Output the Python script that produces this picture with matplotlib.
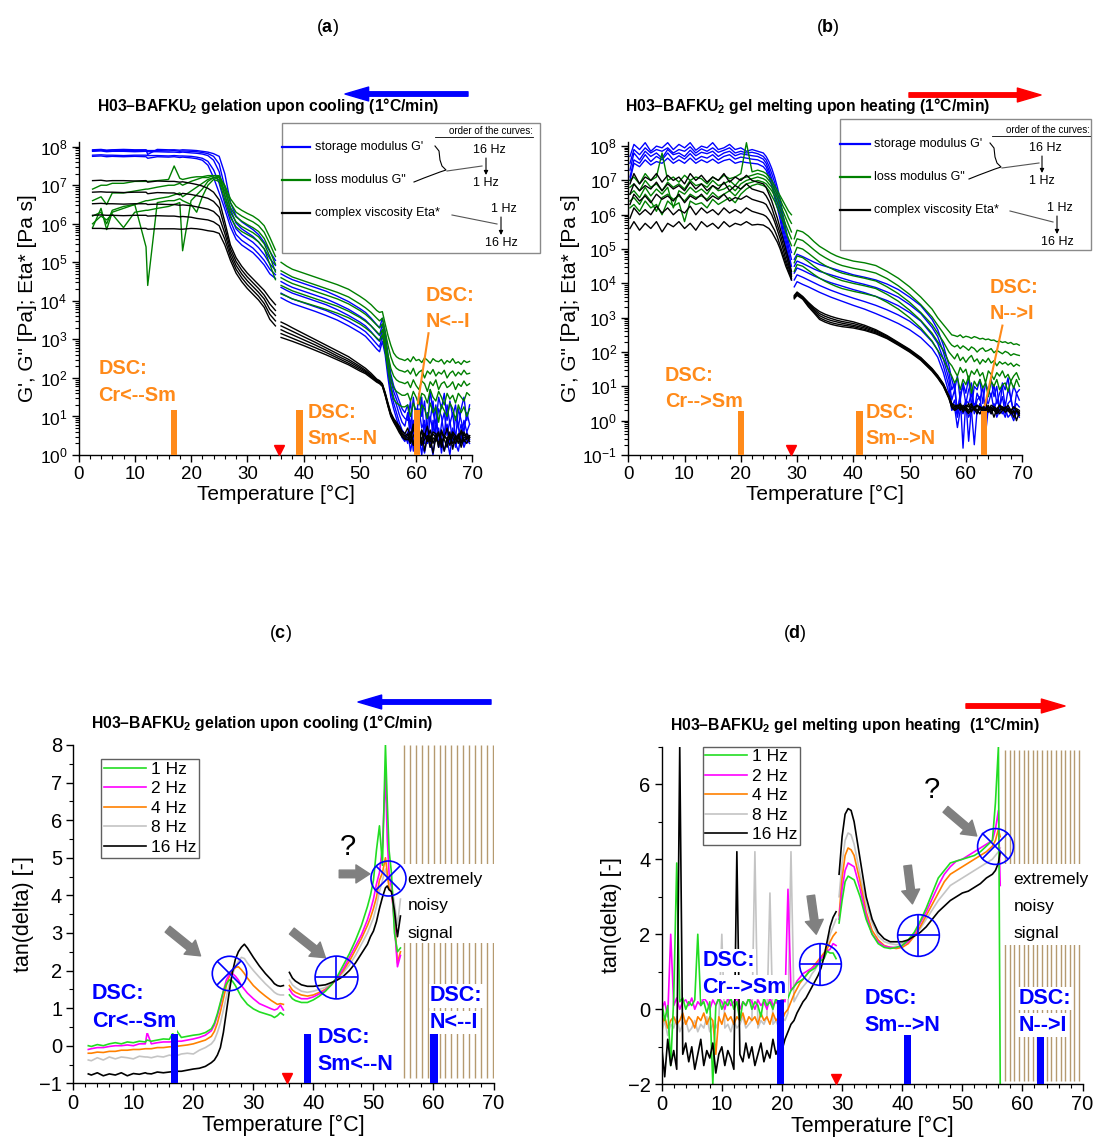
import numpy as np
import matplotlib
matplotlib.use('Agg')
import matplotlib.pyplot as plt
from matplotlib.ticker import MultipleLocator, LogLocator, NullFormatter
from matplotlib.lines import Line2D
from matplotlib.patches import Rectangle, FancyArrowPatch
import matplotlib.transforms as mtransforms

plt.rcParams['font.family'] = ['Liberation Sans', 'DejaVu Sans']
plt.rcParams['mathtext.fontset'] = 'custom'
plt.rcParams['mathtext.rm'] = 'Liberation Sans'
plt.rcParams['mathtext.bf'] = 'Liberation Sans:bold'
plt.rcParams['mathtext.it'] = 'Liberation Sans:italic'
plt.rcParams['mathtext.default'] = 'regular'

# ---------------------------------------------------------------- data
# Panel (a): cooling, log10 of values; rows ordered 16, 8, 4, 2, 1 Hz for G', G''
# and 1, 2, 4, 8, 16 Hz for Eta*
a_T_lo = [2.5, 4, 5, 6, 8, 10, 12, 12.3, 14, 16, 17, 18, 18.5, 20, 21, 22, 23, 24, 25, 26,
          27, 28, 29, 30, 31, 32, 33, 34, 35]
a_Gp_lo = [
    [7.92,7.93,7.91,7.92,7.93,7.92,7.92,7.80,7.93,7.92,7.92,7.91,7.92,7.91,7.90,7.88,7.86,7.82,7.75,7.30,6.55,6.20,6.05,5.95,5.85,5.72,5.52,5.28,5.05],
    [7.90,7.91,7.90,7.91,7.90,7.90,7.91,7.90,7.90,7.89,7.90,7.88,7.89,7.88,7.87,7.85,7.82,7.75,7.55,6.95,6.38,6.02,5.87,5.77,5.67,5.53,5.35,5.10,4.92],
    [7.88,7.89,7.87,7.88,7.88,7.87,7.88,7.87,7.87,7.86,7.86,7.85,7.86,7.84,7.83,7.81,7.77,7.65,7.35,6.72,6.22,5.87,5.72,5.62,5.52,5.38,5.20,4.96,4.80],
    [7.78,7.79,7.78,7.78,7.77,7.78,7.78,7.77,7.77,7.76,7.77,7.76,7.76,7.75,7.73,7.70,7.62,7.40,7.05,6.52,6.07,5.72,5.57,5.47,5.37,5.22,5.05,4.82,4.68],
    [7.75,7.76,7.74,7.75,7.74,7.75,7.74,7.70,7.74,7.73,7.74,7.72,7.73,7.71,7.69,7.65,7.52,7.20,6.80,6.38,5.92,5.60,5.45,5.35,5.25,5.10,4.93,4.70,4.58]]
a_Gpp_lo = [
    [6.90,7.00,7.00,7.05,7.05,7.10,7.10,7.10,7.12,7.15,7.50,7.18,7.15,7.20,7.22,7.22,7.25,7.25,7.22,7.00,6.65,6.45,6.35,6.27,6.20,6.10,5.95,5.65,5.32],
    [6.60,6.70,6.50,6.80,6.80,6.85,6.90,6.90,6.95,7.00,7.00,7.05,7.00,7.10,7.15,7.20,7.20,7.25,7.25,6.95,6.55,6.30,6.20,6.12,6.05,5.95,5.78,5.48,5.15],
    [6.20,6.30,6.00,6.35,6.45,6.50,6.60,6.60,6.65,6.70,6.75,6.80,6.70,6.85,6.95,7.05,7.15,7.20,7.20,6.85,6.42,6.18,6.07,5.98,5.90,5.80,5.62,5.30,4.95],
    [6.00,6.20,6.10,6.25,5.90,6.30,6.35,6.35,6.40,6.45,6.50,6.55,5.30,6.60,6.75,6.90,7.10,7.20,7.15,6.75,6.30,6.05,5.93,5.85,5.77,5.66,5.48,5.15,4.75],
    [5.90,6.40,5.85,6.30,6.40,6.50,5.40,4.40,6.55,6.60,6.60,6.65,6.60,6.50,6.30,6.70,7.00,7.15,7.10,6.62,6.17,5.92,5.80,5.72,5.64,5.53,5.35,4.95,4.55]]
a_Eta_lo = [
    [7.12,7.13,7.11,7.12,7.12,7.11,7.12,7.08,7.11,7.10,7.10,7.08,7.09,7.05,7.02,6.98,6.92,6.82,6.62,6.05,5.45,5.12,4.90,4.72,4.57,4.42,4.27,4.07,3.90],
    [6.82,6.83,6.82,6.82,6.81,6.82,6.82,6.78,6.81,6.80,6.80,6.75,6.79,6.76,6.73,6.70,6.66,6.58,6.42,5.90,5.35,5.02,4.80,4.62,4.47,4.32,4.15,3.92,3.75],
    [6.52,6.53,6.52,6.52,6.51,6.52,6.52,6.50,6.51,6.50,6.50,6.48,6.49,6.47,6.44,6.41,6.38,6.32,6.18,5.75,5.25,4.92,4.70,4.52,4.37,4.22,4.05,3.78,3.62],
    [6.22,6.23,6.22,6.22,6.21,6.22,6.22,6.20,6.21,6.20,6.20,6.18,6.19,6.17,6.14,6.12,6.10,6.05,5.95,5.60,5.15,4.82,4.60,4.42,4.27,4.12,3.93,3.65,3.48],
    [5.88,5.88,5.87,5.88,5.87,5.88,5.88,5.86,5.87,5.87,5.87,5.86,5.86,5.88,5.87,5.85,5.82,5.80,5.75,5.45,5.05,4.72,4.50,4.32,4.17,4.02,3.83,3.52,3.35]]

a_T_hi = [36, 37, 38, 40, 42, 44, 46, 48, 50, 51, 52, 53, 53.5, 54, 54.5, 55, 55.5, 56, 56.5, 57,
          57.5, 58, 58.5, 59, 59.5, 60, 60.5, 61, 61.5, 62, 62.5, 63, 63.5, 64, 64.5, 65, 65.5,
          66, 66.5, 67, 67.5, 68, 68.5, 69, 69.5]
a_Gp_hi = [
    [4.70,4.62,4.55,4.45,4.35,4.25,4.12,3.98,3.80,3.70,3.55,3.38,3.30,3.55,3.20,2.60,2.10,1.80,1.60,1.40,1.20,1.10]
    + [1.3,0.7,1.5,0.9,1.6,1.0,1.4,0.6,1.7,1.1,0.8,1.5,1.2,1.6,0.9,1.4,1.0,1.3,0.7,1.2,1.5,0.9,1.3],
    [4.50,4.42,4.35,4.25,4.15,4.05,3.92,3.78,3.60,3.50,3.35,3.18,3.10,3.40,3.05,2.45,1.95,1.65,1.45,1.25,1.05,0.95]
    + [0.9,1.4,0.5,1.2,0.8,1.5,0.3,1.1,0.9,1.4,0.6,1.2,1.0,0.5,1.3,0.8,1.1,0.4,1.2,0.9,0.6,1.1,0.8],
    [4.35,4.27,4.20,4.10,4.00,3.90,3.77,3.62,3.45,3.35,3.20,3.02,2.95,3.25,2.90,2.30,1.80,1.50,1.30,1.05,0.85,0.75]
    + [1.1,0.4,0.9,0.2,1.2,0.7,0.9,0.3,1.0,0.6,1.3,0.2,0.8,1.1,0.5,0.9,0.3,1.0,0.7,0.4,0.9,0.6,0.8],
    [4.20,4.12,4.05,3.95,3.85,3.75,3.62,3.47,3.30,3.20,3.05,2.88,2.80,3.10,2.75,2.15,1.65,1.35,1.10,0.85,0.65,0.55]
    + [0.3,0.9,0.1,0.7,0.5,0.0,0.8,0.6,0.2,0.9,0.4,0.7,0.05,0.6,0.8,0.3,0.7,0.2,0.5,0.8,0.3,0.6,0.4],
    [4.08,4.00,3.93,3.83,3.73,3.62,3.50,3.35,3.18,3.08,2.92,2.75,2.68,2.95,2.60,2.00,1.50,1.20,0.95,0.70,0.45,0.35]
    + [0.6,0.1,0.5,0.0,0.7,0.3,0.05,0.5,0.4,0.0,0.6,0.2,0.5,0.1,0.4,0.0,0.6,0.3,0.1,0.5,0.2,0.4,0.3]]
a_Gpp_hi = [
    [5.00,4.90,4.82,4.72,4.62,4.52,4.42,4.30,4.12,4.02,3.90,3.75,3.70,3.72,3.40,3.10,2.85,2.65,2.55,2.50,2.48,2.45]
    + [2.5,2.42,2.55,2.45,2.48,2.4,2.52,2.46,2.38,2.5,2.44,2.42,2.48,2.36,2.45,2.4,2.5,2.38,2.42,2.35,2.45,2.4,2.43],
    [4.78,4.70,4.62,4.52,4.42,4.32,4.22,4.10,3.92,3.82,3.70,3.55,3.48,3.55,3.20,2.85,2.55,2.35,2.25,2.20,2.18,2.15]
    + [2.2,2.1,2.25,2.05,2.15,2.2,2.0,2.18,2.1,2.22,2.05,2.15,2.1,2.2,2.0,2.12,2.18,2.05,2.15,2.08,2.2,2.1,2.12],
    [4.60,4.52,4.45,4.35,4.25,4.15,4.05,3.92,3.75,3.65,3.52,3.37,3.30,3.40,3.00,2.60,2.25,2.05,1.95,1.90,1.88,1.85]
    + [1.9,1.75,1.95,1.8,1.7,1.92,1.85,1.65,1.9,1.8,1.95,1.7,1.85,1.9,1.75,1.8,1.9,1.7,1.85,1.78,1.92,1.8,1.85],
    [4.40,4.33,4.26,4.16,4.06,3.96,3.86,3.73,3.57,3.47,3.35,3.20,3.12,3.25,2.85,2.40,2.00,1.75,1.65,1.60,1.55,1.55]
    + [1.6,1.4,1.65,1.5,1.3,1.6,1.55,1.35,1.7,1.5,1.4,1.65,1.5,1.3,1.6,1.45,1.55,1.35,1.6,1.5,1.4,1.62,1.55],
    [4.18,4.12,4.05,3.96,3.87,3.78,3.68,3.56,3.40,3.30,3.18,3.04,2.97,3.12,2.70,2.20,1.75,1.45,1.35,1.30,1.25,1.25]
    + [1.3,1.0,1.35,1.15,0.9,1.3,1.2,0.95,1.35,1.1,1.25,0.85,1.3,1.15,1.0,1.35,1.2,0.9,1.3,1.1,1.25,1.0,1.2]]
a_Eta_hi = [
    [3.45,3.38,3.30,3.15,3.00,2.85,2.70,2.55,2.35,2.25,2.12,1.97,1.93,1.85,1.62,1.35,1.10,0.95,0.85,0.75,0.62,0.55]
    + [0.7,0.45,0.8,0.5,0.3,0.65,0.5,0.75,0.35,0.6,0.55,0.2,0.65,0.45,0.7,0.4,0.6,0.5,0.3,0.65,0.5,0.55,0.45],
    [3.35,3.28,3.21,3.07,2.93,2.78,2.63,2.48,2.30,2.20,2.08,1.95,1.91,1.83,1.60,1.32,1.08,0.92,0.82,0.70,0.58,0.50]
    + [0.55,0.35,0.7,0.45,0.6,0.25,0.55,0.4,0.65,0.3,0.5,0.6,0.2,0.5,0.4,0.6,0.15,0.5,0.45,0.3,0.6,0.4,0.5],
    [3.25,3.18,3.12,2.99,2.86,2.72,2.57,2.43,2.26,2.17,2.05,1.93,1.89,1.82,1.58,1.30,1.05,0.90,0.78,0.66,0.54,0.46]
    + [0.5,0.6,0.3,0.55,0.4,0.65,0.1,0.5,0.35,0.55,0.45,0.3,0.6,0.4,0.2,0.55,0.45,0.3,0.5,0.6,0.35,0.45,0.5],
    [3.15,3.09,3.03,2.91,2.79,2.66,2.52,2.38,2.22,2.14,2.03,1.91,1.87,1.80,1.56,1.28,1.03,0.88,0.75,0.62,0.50,0.43]
    + [0.45,0.3,0.5,0.6,0.2,0.45,0.55,0.35,0.5,0.05,0.45,0.55,0.3,0.5,0.4,0.25,0.55,0.4,0.5,0.2,0.45,0.5,0.35],
    [3.05,3.00,2.95,2.84,2.72,2.60,2.47,2.34,2.18,2.11,2.00,1.89,1.85,1.78,1.54,1.26,1.00,0.85,0.72,0.58,0.47,0.40]
    + [0.4,0.5,0.25,0.45,0.55,0.3,0.4,0.5,0.2,0.45,0.35,0.55,0.4,0.1,0.45,0.5,0.3,0.4,0.55,0.35,0.4,0.3,0.45]]
a_dsc_T = [17.0, 39.3, 60.2]
a_dsc_top = [15, 15, 15]
a_break_T = 35.6

# Panel (b): heating
b_T_lo = [0.3, 1, 2, 3, 4, 5, 6, 7, 8, 9, 10, 11, 12, 13, 14, 15, 16, 17, 18, 19, 20, 21, 22, 23, 24,
          24.5, 25, 25.5, 26, 26.5, 27, 27.5, 28, 28.5, 29]
b_Gp_lo = [
    [7.70,8.05,7.90,8.10,7.85,8.00,7.95,8.10,7.90,8.05,7.95,8.10,7.88,8.00,7.95,8.10,7.90,7.95,8.05,7.90,7.95,7.85,7.90,7.85,7.80]
    + [7.70,7.55,7.35,7.10,6.80,6.45,6.00,5.60,5.20,4.90],
    [7.50,7.90,7.75,7.95,7.80,7.90,7.85,7.95,7.80,7.90,7.85,7.98,7.80,7.92,7.85,7.95,7.82,7.88,7.95,7.80,7.85,7.80,7.82,7.78,7.70]
    + [7.60,7.42,7.20,6.95,6.65,6.30,5.85,5.45,5.05,4.70],
    [7.30,7.80,7.60,7.85,7.70,7.80,7.65,7.90,7.75,7.80,7.70,7.88,7.72,7.82,7.78,7.85,7.70,7.80,7.85,7.72,7.78,7.75,7.72,7.70,7.62]
    + [7.50,7.30,7.05,6.80,6.50,6.15,5.70,5.30,4.90,4.50],
    [7.10,7.60,7.50,7.75,7.55,7.70,7.60,7.80,7.60,7.72,7.62,7.78,7.60,7.70,7.65,7.75,7.60,7.70,7.75,7.62,7.68,7.65,7.62,7.60,7.52]
    + [7.40,7.20,6.95,6.65,6.35,6.00,5.55,5.15,4.75,4.30],
    [7.00,7.50,7.40,7.60,7.45,7.55,7.50,7.65,7.50,7.60,7.50,7.65,7.50,7.60,7.52,7.62,7.50,7.58,7.62,7.50,7.55,7.52,7.50,7.48,7.40]
    + [7.30,7.10,6.85,6.50,6.20,5.85,5.40,5.00,4.60,4.10]]
b_Gpp_lo = [
    [7.00,7.10,6.90,7.20,7.00,7.10,7.80,7.00,7.10,6.95,7.15,7.00,7.10,7.05,6.90,7.10,7.00,7.15,7.05,7.10,7.20,8.10,7.25,7.30,7.25]
    + [7.20,7.10,7.00,6.85,6.70,6.55,6.40,6.25,6.10,6.00],
    [6.80,6.90,6.70,7.00,6.80,6.90,6.70,6.95,6.80,6.90,6.75,7.00,6.85,6.90,6.80,7.00,6.85,6.90,7.00,6.85,7.05,7.10,7.15,7.20,7.15]
    + [7.10,7.00,6.90,6.75,6.60,6.45,6.25,6.10,5.90,5.75],
    [6.60,6.70,6.50,6.80,6.55,6.75,6.60,6.80,6.20,6.70,6.60,6.80,6.65,6.75,6.60,6.85,6.70,6.75,6.85,6.70,6.90,7.00,7.05,7.10,7.05]
    + [7.00,6.90,6.80,6.65,6.50,6.30,6.10,5.90,5.70,5.50],
    [6.40,6.50,6.30,6.60,6.40,6.10,6.50,6.60,6.45,6.55,6.40,6.60,6.50,6.55,6.45,6.65,6.50,6.60,6.70,6.55,6.75,6.90,6.95,7.00,6.95]
    + [6.90,6.80,6.70,6.55,6.35,6.15,5.95,5.70,5.50,5.30],
    [6.20,6.30,6.10,6.40,6.20,6.30,6.00,6.40,6.25,6.35,5.80,6.40,6.30,6.35,6.20,6.45,6.30,6.40,6.50,6.35,6.60,6.75,6.85,6.90,6.85]
    + [6.80,6.70,6.55,6.40,6.20,6.00,5.80,5.50,5.30,5.10]]
b_Eta_lo = [
    [6.90,7.20,6.90,7.10,7.00,7.20,6.95,7.15,7.00,7.10,6.90,7.20,7.00,7.15,6.95,7.10,7.00,7.20,6.95,7.10,7.00,7.15,7.00,6.95,6.90]
    + [6.80,6.60,6.40,6.15,5.90,5.60,5.30,5.00,4.70,4.35],
    [6.60,6.90,6.70,6.85,6.75,6.95,6.70,6.90,6.75,6.85,6.70,6.95,6.75,6.90,6.70,6.85,6.75,6.95,6.70,6.85,6.75,6.90,6.75,6.70,6.65]
    + [6.55,6.40,6.20,5.95,5.70,5.45,5.15,4.85,4.55,4.25],
    [6.30,6.60,6.40,6.55,6.35,6.60,6.45,6.55,6.40,6.60,6.35,6.55,6.45,6.60,6.40,6.55,6.45,6.60,6.40,6.50,6.45,6.55,6.45,6.40,6.35]
    + [6.30,6.15,6.00,5.80,5.55,5.30,5.00,4.70,4.45,4.20],
    [5.90,6.20,6.00,6.15,6.00,6.25,6.05,6.20,6.00,6.15,6.05,6.25,6.00,6.20,6.05,6.15,6.00,6.20,6.05,6.15,6.05,6.20,6.10,6.05,6.00]
    + [5.95,5.85,5.70,5.55,5.35,5.10,4.85,4.60,4.35,4.15],
    [5.60,5.80,5.55,5.75,5.60,5.80,5.50,5.75,5.65,5.80,5.60,5.75,5.55,5.80,5.65,5.75,5.60,5.80,5.65,5.75,5.70,5.80,5.70,5.72,5.70]
    + [5.65,5.60,5.50,5.35,5.20,5.00,4.75,4.50,4.30,4.10]]

b_T_hi = [29.5, 30, 31, 32, 33, 34, 35, 36, 37, 38, 40, 42, 44, 46, 48, 50, 52, 54, 55, 56, 57,
          57.5, 58, 58.5, 59, 59.5, 60, 60.5, 61, 61.5, 62, 62.5, 63, 63.5, 64, 64.5, 65, 65.5,
          66, 66.5, 67, 67.5, 68, 68.5, 69, 69.5]
b_Gp_hi = [
    [4.70,4.85,4.78,4.70,4.62,4.55,4.50,4.45,4.40,4.35,4.25,4.18,4.10,3.98,3.82,3.60,3.35,2.95,2.65,2.20,1.60]
    + [1.2,0.9,1.3,0.6,1.1,0.8,1.25,0.4,1.0,0.9,1.2,0.5,1.1,0.85,1.2,0.7,1.0,0.3,1.1,0.9,1.25,0.6,1.0,0.8,0.9],
    [4.50,4.65,4.58,4.50,4.42,4.35,4.30,4.25,4.20,4.15,4.05,3.97,3.88,3.75,3.60,3.38,3.12,2.72,2.45,2.00,1.40]
    + [0.9,1.1,0.2,0.8,1.0,0.5,0.9,1.1,0.3,0.8,0.6,1.0,0.2,0.9,0.7,1.05,0.5,0.8,1.0,0.4,0.9,0.7,0.2,0.8,0.6],
    [4.30,4.45,4.38,4.30,4.22,4.15,4.08,4.02,3.97,3.92,3.82,3.73,3.62,3.50,3.35,3.15,2.90,2.50,2.25,1.80,1.20]
    + [0.6,0.9,0.3,0.7,-0.8,0.6,0.5,0.8,0.2,0.6,0.7,0.1,0.6,0.5,0.8,0.3,0.6,0.4,0.7,0.2,0.5,0.6,0.3,0.5,0.4],
    [4.10,4.25,4.18,4.10,4.02,3.94,3.87,3.80,3.74,3.68,3.57,3.47,3.36,3.23,3.08,2.90,2.65,2.30,2.05,1.60,1.00]
    + [0.4,0.6,0.1,0.5,0.3,0.6,-0.6,0.4,0.5,0.2,0.5,0.3,-0.4,0.4,0.3,0.5,0.2,0.4,0.3,0.1,0.4,0.3,0.2,0.3,0.2],
    [3.90,4.05,3.97,3.90,3.82,3.74,3.67,3.60,3.54,3.48,3.36,3.25,3.12,2.98,2.83,2.65,2.42,2.10,1.85,1.40,0.80]
    + [0.3,0.4,-0.2,0.3,0.2,0.4,0.1,0.3,-0.7,0.3,0.2,0.35,0.0,0.3,0.2,0.4,0.1,0.3,0.2,0.35,0.1,0.2,0.0,0.25,0.1]]
b_Gpp_hi = [
    [5.30,5.55,5.50,5.38,5.22,5.08,4.98,4.88,4.80,4.74,4.65,4.60,4.52,4.35,4.15,3.90,3.60,3.25,3.00,2.80,2.60]
    + [2.50,2.48,2.45,2.50,2.42,2.46,2.44,2.40,2.45,2.42,2.38,2.40,2.36,2.38,2.34,2.35,2.30,2.32,2.28,2.30,2.25,2.28,2.22,2.24,2.20],
    [5.10,5.30,5.25,5.12,4.98,4.85,4.75,4.66,4.58,4.52,4.44,4.38,4.30,4.14,3.93,3.68,3.38,3.02,2.78,2.55,2.30]
    + [2.20,2.15,2.20,2.10,2.18,2.12,2.05,2.15,2.10,2.00,2.08,2.12,2.02,2.05,2.10,1.98,2.05,2.00,1.95,2.02,1.98,1.90,1.95,1.92,1.90],
    [4.85,5.05,5.00,4.88,4.75,4.62,4.52,4.44,4.36,4.30,4.22,4.15,4.07,3.90,3.70,3.45,3.15,2.80,2.55,2.30,2.00]
    + [1.90,1.80,1.95,1.75,1.85,1.70,1.82,1.90,1.72,1.80,1.65,1.78,1.70,1.82,1.68,1.75,1.60,1.72,1.65,1.70,1.62,1.68,1.58,1.65,1.60],
    [4.60,4.80,4.75,4.63,4.50,4.38,4.29,4.21,4.14,4.08,4.00,3.93,3.85,3.68,3.48,3.22,2.92,2.55,2.30,2.05,1.70]
    + [1.60,1.45,1.30,1.55,1.40,1.50,1.20,1.45,1.35,1.50,1.30,1.40,1.10,1.45,1.35,1.20,1.40,1.30,1.45,1.25,1.35,1.15,1.30,1.40,1.20],
    [4.35,4.55,4.50,4.38,4.26,4.15,4.06,3.98,3.91,3.85,3.77,3.70,3.62,3.45,3.25,3.00,2.70,2.32,2.05,1.80,1.45]
    + [1.30,1.10,1.25,0.90,1.20,1.05,1.30,0.80,1.15,1.00,1.20,0.95,1.10,0.70,1.15,1.00,1.20,0.90,1.05,1.10,0.85,1.15,0.95,1.20,1.00]]
b_Eta_hi = [
    [3.65,3.75,3.62,3.45,3.30,3.18,3.10,3.04,2.99,2.95,2.88,2.78,2.65,2.48,2.28,2.08,1.84,1.52,1.32,1.08,0.72]
    + [0.50,0.45,0.40,0.50,0.35,0.45,0.40,0.50,0.30,0.45,0.40,0.35,0.50,0.30,0.45,0.40,0.25,0.45,0.40,0.35,0.45,0.30,0.40,0.35,0.30],
    [3.62,3.72,3.60,3.42,3.26,3.12,3.04,2.98,2.93,2.89,2.83,2.74,2.62,2.46,2.26,2.06,1.82,1.50,1.30,1.06,0.70]
    + [0.48,0.40,0.45,0.30,0.45,0.35,0.50,0.25,0.40,0.45,0.30,0.40,0.35,0.45,0.20,0.40,0.35,0.45,0.30,0.40,0.35,0.25,0.40,0.30,0.20],
    [3.60,3.70,3.58,3.38,3.22,3.06,2.98,2.92,2.88,2.84,2.78,2.70,2.59,2.43,2.24,2.04,1.80,1.48,1.28,1.04,0.68]
    + [0.45,0.35,0.40,0.45,0.25,0.40,0.30,0.45,0.35,0.20,0.40,0.35,0.30,0.40,0.35,0.10,0.35,0.30,0.40,0.25,0.35,0.30,0.10,0.30,0.25],
    [3.58,3.68,3.56,3.35,3.18,3.00,2.92,2.86,2.82,2.79,2.74,2.66,2.56,2.41,2.22,2.02,1.78,1.46,1.26,1.02,0.66]
    + [0.40,0.30,0.45,0.35,0.40,0.30,0.20,0.40,0.35,0.30,0.40,0.25,0.35,0.30,0.40,0.30,0.35,0.20,0.30,0.35,0.30,0.20,0.30,0.00,0.25],
    [3.55,3.65,3.54,3.32,3.14,2.95,2.87,2.81,2.77,2.74,2.70,2.63,2.53,2.39,2.20,2.00,1.76,1.44,1.24,1.00,0.64]
    + [0.38,0.30,0.35,0.40,0.30,0.35,0.25,0.30,0.40,0.30,0.20,0.35,0.30,0.25,0.35,0.30,0.20,0.30,0.35,0.25,0.30,0.20,0.25,0.30,0.15]]
b_dsc_T = [20.0, 41.1, 63.2]
b_dsc_top = [1.9, 1.9, 1.9]
b_break_T = 29.0

# Panel (c): tan(delta) on cooling, rows 1, 2, 4, 8, 16 Hz
freq_labels = ['1 Hz', '2 Hz', '4 Hz', '8 Hz', '16 Hz']
c_T_lo = [2.5, 3, 4, 5, 6, 7, 8, 9, 10, 11, 12, 12.3, 13, 14, 15, 16, 17, 18, 19, 20, 21, 22, 23,
          23.5, 24, 24.5, 25, 25.5, 26, 26.5, 27, 27.5, 28, 28.5, 29, 30, 31, 32, 33, 33.5, 34, 34.5, 35]
c_tan_lo = [
    [0.0,-0.02,0.03,0.0,0.05,0.08,0.05,0.1,0.08,0.12,0.1,0.15,0.12,0.15,0.18,0.17,0.45,0.22,0.25,0.28,0.3,0.35,0.45,0.6,0.85,1.15,1.45,1.65,1.75,1.72,1.6,1.45,1.3,1.2,1.1,0.98,0.9,0.85,0.8,0.75,0.8,0.88,0.82],
    [-0.1,-0.08,-0.05,-0.05,-0.02,0.0,0.0,0.02,0.0,0.05,0.05,0.35,0.05,0.08,0.1,0.1,0.12,0.12,0.15,0.18,0.22,0.28,0.4,0.55,0.8,1.1,1.45,1.75,1.9,1.92,1.85,1.75,1.6,1.5,1.4,1.25,1.12,1.05,0.98,0.95,0.98,1.08,0.95],
    [-0.2,-0.2,-0.17,-0.18,-0.15,-0.15,-0.12,-0.12,-0.1,-0.1,-0.08,-0.08,-0.08,-0.05,-0.05,-0.03,-0.02,0.0,0.02,0.05,0.1,0.15,0.25,0.38,0.6,0.9,1.25,1.6,1.85,2.0,2.08,2.1,2.02,1.92,1.8,1.6,1.45,1.32,1.2,1.15,1.1,1.12,1.1],
    [-0.38,-0.4,-0.32,-0.38,-0.3,-0.35,-0.3,-0.32,-0.35,-0.28,-0.3,-0.3,-0.32,-0.28,-0.3,-0.25,-0.28,-0.22,-0.2,-0.22,-0.12,-0.05,0.05,0.15,0.35,0.6,0.95,1.3,1.65,1.9,2.1,2.25,2.35,2.32,2.2,2.0,1.82,1.65,1.5,1.42,1.37,1.35,1.35],
    [-0.75,-0.78,-0.72,-0.8,-0.75,-0.78,-0.72,-0.8,-0.74,-0.76,-0.72,-0.74,-0.75,-0.7,-0.72,-0.7,-0.68,-0.68,-0.65,-0.62,-0.6,-0.55,-0.45,-0.38,-0.25,-0.05,0.35,0.9,1.45,1.95,2.3,2.5,2.62,2.7,2.6,2.35,2.12,1.92,1.75,1.65,1.6,1.58,1.6]]
c_T_hi = [36, 36.5, 37, 38, 39, 40, 41, 42, 43, 44, 45, 46, 47, 48, 49, 49.5, 50, 50.5, 51, 51.5,
          52, 52.3, 52.6, 53, 53.5, 54, 54.5]
c_tan_hi = [
    [1.35,1.25,1.2,1.15,1.15,1.22,1.32,1.45,1.62,1.85,2.15,2.45,2.8,3.2,3.7,4.0,4.4,5.2,5.85,4.8,8.0,6.5,5.2,4.6,3.0,2.5,2.6],
    [1.5,1.38,1.32,1.25,1.25,1.3,1.38,1.48,1.62,1.82,2.05,2.35,2.65,2.95,3.35,3.6,3.9,4.3,4.6,5.3,7.25,5.5,4.6,4.2,3.2,2.1,2.4],
    [1.6,1.48,1.42,1.35,1.32,1.35,1.42,1.5,1.62,1.8,2.0,2.25,2.55,2.85,3.2,3.4,3.65,3.95,4.4,4.6,5.0,4.6,4.2,4.1,3.4,2.2,2.5],
    [1.75,1.62,1.55,1.45,1.42,1.45,1.5,1.55,1.65,1.78,1.95,2.15,2.4,2.7,3.0,3.2,3.4,3.7,4.1,4.4,4.7,4.5,4.3,4.3,3.8,3.2,3.9],
    [1.95,1.8,1.72,1.62,1.58,1.58,1.6,1.62,1.68,1.75,1.85,2.0,2.2,2.45,2.7,2.9,3.05,3.3,3.65,3.95,4.2,4.25,4.15,4.1,3.6,2.9,3.45]]
c_dsc_T = [16.8, 39.0, 60.1]
c_dsc_top = [0.3, 0.3, 0.3]
c_break_T = 35.6
c_circles = [(25.9, 1.94), (43.7, 1.83), (52.4, 4.45)]

# Panel (d): tan(delta) on heating
d_T_lo = [0, 0.5, 1, 1.5, 2, 2.5, 3, 3.5, 4, 4.5, 5, 5.5, 6, 6.5, 7, 7.5, 8, 8.5, 9, 9.5, 10, 10.5,
          11, 11.5, 12, 12.5, 13, 13.5, 14, 14.5, 15, 15.5, 16, 16.5, 17, 17.5, 18, 18.5, 19, 19.5,
          20, 20.5, 21, 21.5, 22, 22.5, 23, 23.5, 24, 24.5, 25, 25.5, 26, 26.5, 27, 27.5, 28, 28.5, 29]
d_tan_lo = [
    [0.2,-0.3,0.1,-1.5,0.3,3.9,0.2,0.3,0.0,0.2,0.1,0.25,2.0,0.1,0.2,-0.1,0.2,-2.0,0.1,0.3,0.0,0.2,0.1,0.3,0.0,0.2,-0.3,0.2,0.1,0.3,0.0,0.2,0.1,-0.2,0.3,0.1,0.2,0.0,0.3,0.1,0.2,0.4,0.3,0.5,0.6,0.7,0.75,0.8,0.9,1.0,1.05,1.1,1.2,1.3,1.35,1.55,1.5,1.5,1.35],
    [0.0,0.2,-0.2,2.0,0.1,0.3,0.0,0.2,0.25,0.1,0.3,0.0,0.2,0.1,0.3,0.2,0.0,0.25,0.1,0.3,0.2,0.0,0.3,0.1,0.2,0.3,0.0,0.2,0.1,0.3,0.2,0.0,0.25,0.1,0.2,0.0,0.3,0.1,0.2,0.1,0.3,0.2,3.2,0.5,0.6,0.75,0.85,0.95,1.0,1.05,1.1,1.15,1.25,1.35,1.45,1.55,1.6,1.75,1.7],
    [-0.4,-0.2,-0.5,-0.3,-0.2,-0.4,-0.3,-0.1,-0.4,-0.2,-0.3,-0.5,-0.2,-0.3,-0.1,-0.4,-0.2,-0.3,-1.2,-0.2,-0.4,-0.1,-0.3,-0.2,-0.4,-0.2,-0.3,-0.1,-0.4,-0.2,-0.3,-0.2,-0.4,-0.1,-0.3,-0.2,-0.4,-0.1,-0.3,-0.2,-0.3,-0.1,0.0,0.2,0.4,0.55,0.7,0.8,0.9,1.0,1.1,1.2,1.3,1.4,1.5,1.6,1.8,1.95,2.05],
    [-0.6,-0.3,-0.7,-0.4,-0.5,-0.2,-0.6,-0.4,-0.3,-0.6,-0.5,-0.3,-0.6,-0.4,-0.5,-0.2,-0.6,-0.4,-0.5,-0.3,2.0,-0.5,-0.4,-0.6,-0.3,-0.5,-0.4,-0.2,-0.5,-0.4,-0.3,4.2,-0.5,-0.3,-0.4,-0.2,3.1,-0.4,-0.3,-0.5,-0.2,-0.3,-0.1,4.2,0.2,0.35,0.5,0.6,0.7,0.8,0.95,1.05,1.2,1.35,1.5,1.7,2.0,2.2,2.4],
    [-1.0,-1.8,-0.8,-1.5,-1.1,-1.6,7.0,-1.2,-0.9,-1.4,-1.0,-1.6,-1.2,-0.8,-1.5,-1.1,-1.3,-0.9,-1.7,-1.2,-1.0,-1.5,-1.1,-1.3,-1.6,4.2,-1.2,-1.4,-0.9,-1.3,-1.0,-1.5,-1.2,-0.9,-1.4,-1.1,-1.3,-0.8,-1.2,-1.0,-1.1,-0.8,-0.6,-0.4,-0.3,-0.1,0.05,0.2,0.3,0.45,0.6,0.75,0.9,1.1,1.4,1.8,2.2,2.45,2.6]]
d_T_hi = [29.5, 30, 30.5, 31, 31.5, 32, 33, 34, 35, 36, 37, 38, 39, 40, 41, 42, 43, 44, 45, 46, 47,
          48, 49, 50, 51, 52, 53, 54, 55, 55.5, 56, 56.3]
d_tan_hi = [
    [2.3,2.9,3.4,3.55,3.5,3.45,3.0,2.4,2.0,1.75,1.65,1.62,1.65,1.7,1.85,2.05,2.35,2.7,3.1,3.5,3.7,3.9,3.95,4.0,4.05,4.1,4.2,4.35,4.5,5.5,7.0,-2.0],
    [2.4,3.2,3.7,3.9,3.85,3.8,3.2,2.5,2.0,1.8,1.68,1.65,1.65,1.7,1.8,2.0,2.3,2.6,2.95,3.3,3.6,3.8,3.95,4.0,4.1,4.2,4.3,4.4,4.5,4.8,5.3,3.3],
    [2.5,3.5,4.1,4.3,4.25,4.1,3.4,2.6,2.1,1.85,1.7,1.65,1.62,1.65,1.75,1.95,2.2,2.5,2.8,3.1,3.4,3.6,3.7,3.8,3.9,4.0,4.1,4.2,4.35,4.5,4.8,4.6],
    [3.0,3.9,4.5,4.7,4.65,4.4,3.6,2.8,2.3,1.95,1.8,1.75,1.72,1.75,1.82,1.95,2.15,2.4,2.65,2.9,3.1,3.3,3.4,3.5,3.6,3.7,3.8,3.9,4.0,4.1,4.2,4.3],
    [3.6,4.6,5.2,5.35,5.3,5.0,4.0,3.0,2.4,2.05,1.88,1.8,1.8,1.8,1.85,1.95,2.05,2.2,2.4,2.6,2.75,2.9,3.0,3.1,3.15,3.25,3.35,3.5,3.6,3.7,3.9,4.2]]
d_dsc_T = [19.8, 40.9, 63.0]
d_dsc_top = [0.26, -0.69, -0.69]
d_break_T = 29.0
d_circles = [(26.3, 1.2), (42.6, 1.98), (55.4, 4.35)]

# ---------------------------------------------------------------- styling
W, H = 1094, 1142
fig = plt.figure(figsize=(W / 100, H / 100), dpi=100)

BLUE = '#0000ff'
DGREEN = '#008000'
ORANGE = '#ff8a1a'
TAN_COLORS = ['#22dd22', '#ff00ff', '#ff8000', '#c4c4c4', '#000000']
HATCH = '#b59a70'
GRAYARROW = '#808080'


def P(x, y):
    return (x / W, 1 - y / H)


def ax_rect(x0, x1, ytop, ybot):
    return [x0 / W, 1 - ybot / H, (x1 - x0) / W, (ybot - ytop) / H]


def style(ax, log=False, xsize=13.5, ysize=13.5):
    for s in ['top', 'right']:
        ax.spines[s].set_visible(False)
    for s in ['left', 'bottom']:
        ax.spines[s].set_linewidth(1.0)
    ax.set_xlim(0, 70)
    ax.xaxis.set_major_locator(MultipleLocator(10))
    ax.xaxis.set_minor_locator(MultipleLocator(2))
    ax.tick_params(which='major', direction='out', length=5, width=1, pad=3)
    ax.tick_params(which='minor', direction='out', length=3, width=0.8)
    ax.tick_params(axis='x', labelsize=xsize)
    ax.tick_params(axis='y', labelsize=ysize)
    if log:
        ax.set_yscale('log')
        ax.yaxis.set_major_locator(LogLocator(base=10, numticks=15))
        ax.yaxis.set_minor_locator(LogLocator(base=10, subs=np.arange(2, 10), numticks=15))
        ax.yaxis.set_minor_formatter(NullFormatter())


def red_marker(ax, x, yb):
    tr = mtransforms.offset_copy(ax.transData, fig=fig, y=3.6, units='points')
    ax.plot([x], [yb], marker='v', color='red', ms=7.2, transform=tr, clip_on=False, zorder=6,
            linestyle='none')


def title_block(cx, cy, text, ax_x0, ax_x1, ay, color, direction):
    fig.text(*P(cx, cy), text, ha='center', va='center', fontsize=11.3, fontweight='bold')
    if direction < 0:
        a, b = (ax_x1, ay), (ax_x0, ay)
    else:
        a, b = (ax_x0, ay), (ax_x1, ay)
    fig.add_artist(FancyArrowPatch(P(*a), P(*b), transform=fig.transFigure,
                                   arrowstyle='simple,head_length=1.7,head_width=1.0,tail_width=0.32',
                                   mutation_scale=10, color=color, shrinkA=0, shrinkB=0))


def modulus_legend(x0, x1, y0, y1, rows_y, line_x1, text_x, order_right, order_y,
                   brace_pts, brace_line, hz1, hz2, visc_line):
    fig.add_artist(Rectangle(P(x0, y1), (x1 - x0) / W, (y1 - y0) / H, transform=fig.transFigure,
                             facecolor='white', edgecolor='#8a8a8a', lw=1.0, zorder=10))
    labels = ["storage modulus G'", 'loss modulus G"', 'complex viscosity Eta*']
    cols = [BLUE, DGREEN, 'black']
    for yy, lab, c in zip(rows_y, labels, cols):
        fig.add_artist(Line2D([x0 / W, line_x1 / W], [1 - yy / H] * 2, color=c, lw=1.6,
                              transform=fig.transFigure, zorder=11))
        fig.text(*P(text_x, yy), lab, fontsize=9, va='center', ha='left', zorder=11)
    fig.text(*P(order_right, order_y), 'order of the curves:', fontsize=7, ha='right',
             va='center', zorder=11)
    fig.add_artist(Line2D([(order_right - 98) / W, order_right / W], [1 - (order_y + 6) / H] * 2,
                          color='black', lw=0.6, transform=fig.transFigure, zorder=11))
    bx = [p[0] / W for p in brace_pts]
    by = [1 - p[1] / H for p in brace_pts]
    fig.add_artist(Line2D(bx, by, color='black', lw=0.8, transform=fig.transFigure, zorder=11))
    for (xa, ya), (xb, yb) in [brace_line, visc_line]:
        fig.add_artist(Line2D([xa / W, xb / W], [1 - ya / H, 1 - yb / H], color='#555555',
                              lw=0.8, transform=fig.transFigure, zorder=11))
    for (tx, ty_top, t_top, ty_bot, t_bot) in [hz1, hz2]:
        fig.text(*P(tx + 3, ty_top), t_top, fontsize=9, ha='center', va='center', zorder=11)
        fig.text(*P(tx, ty_bot), t_bot, fontsize=9, ha='center', va='center', zorder=11)
        fig.add_artist(FancyArrowPatch(P(tx, ty_top + 8), P(tx, ty_bot - 8),
                                       transform=fig.transFigure, arrowstyle='-|>',
                                       mutation_scale=6, lw=0.8, color='black',
                                       shrinkA=0, shrinkB=0, zorder=11))


def gray_arrow(ax, tail, head):
    ax.add_patch(FancyArrowPatch(tail, head, arrowstyle='simple,head_length=1.0,head_width=1.3,tail_width=0.55',
                                 mutation_scale=10, color=GRAYARROW, shrinkA=0, shrinkB=0, zorder=7))


def circle_mark(ax, xy, d_pt, cross):
    ax.plot([xy[0]], [xy[1]], marker='o', ms=d_pt, mfc='none', mec=BLUE, mew=1.2, zorder=8,
            linestyle='none')
    if cross == '+':
        ax.plot([xy[0]], [xy[1]], marker='+', ms=d_pt, mec=BLUE, mew=1.2, zorder=8, linestyle='none')
    else:
        ax.plot([xy[0]], [xy[1]], marker='x', ms=d_pt / np.sqrt(2), mec=BLUE, mew=1.2, zorder=8,
                linestyle='none')


def dsc_text(ax, x, y1, y2, l1, l2, color, size, box=False):
    kw = dict(color=color, fontsize=size, fontweight='bold', ha='left', va='center', zorder=9)
    if box:
        kw['bbox'] = dict(facecolor='white', edgecolor='none', pad=1.0)
    ax.text(x, y1, l1, **kw)
    ax.text(x, y2, l2, **kw)


# ---------------------------------------------------------------- panel (a)
axA = fig.add_axes(ax_rect(78.5, 472.4, 141.7, 455))
style(axA, log=True, xsize=13.5, ysize=12.5)
axA.set_ylim(1, 10 ** 8.13)
for T, rows, c in [(a_T_lo, a_Gp_lo, BLUE), (a_T_hi, a_Gp_hi, BLUE),
                   (a_T_lo, a_Gpp_lo, DGREEN), (a_T_hi, a_Gpp_hi, DGREEN),
                   (a_T_lo, a_Eta_lo, 'black'), (a_T_hi, a_Eta_hi, 'black')]:
    for r in rows:
        axA.plot(T, 10 ** np.array(r), color=c, lw=1.0, zorder=2)
axA.bar(a_dsc_T, np.array(a_dsc_top) - 1, bottom=1, width=1.15, color=ORANGE, zorder=4)
dsc_text(axA, 3.5, 10 ** 2.25, 10 ** 1.55, 'DSC:', 'Cr<--Sm', ORANGE, 14.3)
dsc_text(axA, 40.7, 10 ** 1.1, 10 ** 0.43, 'DSC:', 'Sm<--N', ORANGE, 14.3)
dsc_text(axA, 61.6, 10 ** 4.15, 10 ** 3.46, 'DSC:', 'N<--I', ORANGE, 14.3)
axA.plot([62.2, 60.3], [10 ** 3.16, 10 ** 1.34], color=ORANGE, lw=1.5, zorder=4)
red_marker(axA, a_break_T, 1)
axA.set_xlabel('Temperature [°C]', fontsize=15, labelpad=1)
axA.set_ylabel('G\', G" [Pa]; Eta* [Pa s]', fontsize=15, labelpad=2)

# ---------------------------------------------------------------- panel (b)
axB = fig.add_axes(ax_rect(628.3, 1022.1, 142, 455))
style(axB, log=True, xsize=13.5, ysize=12.5)
axB.set_ylim(0.1, 10 ** 8.12)
for T, rows, c in [(b_T_lo, b_Gp_lo, BLUE), (b_T_hi, b_Gp_hi, BLUE),
                   (b_T_lo, b_Gpp_lo, DGREEN), (b_T_hi, b_Gpp_hi, DGREEN),
                   (b_T_lo, b_Eta_lo, 'black'), (b_T_hi, b_Eta_hi, 'black')]:
    for r in rows:
        axB.plot(T, 10 ** np.array(r), color=c, lw=1.0, zorder=2)
axB.bar(b_dsc_T, np.array(b_dsc_top) - 0.1, bottom=0.1, width=1.15, color=ORANGE, zorder=4)
dsc_text(axB, 6.5, 10 ** 1.32, 10 ** 0.55, 'DSC:', 'Cr-->Sm', ORANGE, 14.3)
dsc_text(axB, 42.1, 10 ** 0.23, 10 ** -0.52, 'DSC:', 'Sm-->N', ORANGE, 14.3)
dsc_text(axB, 64.3, 10 ** 3.89, 10 ** 3.11, 'DSC:', 'N-->I', ORANGE, 14.3)
axB.plot([66.5, 63.4], [10 ** 2.77, 10 ** 0.45], color=ORANGE, lw=1.5, zorder=4)
red_marker(axB, b_break_T, 0.1)
axB.set_xlabel('Temperature [°C]', fontsize=15, labelpad=1)
axB.set_ylabel('G\', G" [Pa]; Eta* [Pa s]', fontsize=15, labelpad=2)

# ---------------------------------------------------------------- panel (c)
axC = fig.add_axes(ax_rect(73.3, 493.5, 745, 1083.3))
style(axC, xsize=14.5, ysize=14.5)
axC.set_ylim(-1, 8)
axC.yaxis.set_major_locator(MultipleLocator(1))
axC.yaxis.set_minor_locator(MultipleLocator(0.5))
axC.vlines(np.arange(55.1, 70.0, 0.985), -0.85, 8, color=HATCH, lw=1.0, zorder=1)
axC.add_patch(Rectangle((54.9, 2.72), 15.5, 2.12, facecolor='white', edgecolor='none', zorder=3))
order = [3, 2, 1, 0, 4]
handles = [None] * 5
for i in order:
    h, = axC.plot(c_T_lo, c_tan_lo[i], color=TAN_COLORS[i], lw=1.2, zorder=2)
    axC.plot(c_T_hi, c_tan_hi[i], color=TAN_COLORS[i], lw=1.2, zorder=2)
    handles[i] = h
axC.bar(c_dsc_T, np.array(c_dsc_top) + 1, bottom=-1, width=1.2, color=BLUE, zorder=4)
dsc_text(axC, 3.1, 1.39, 0.65, 'DSC:', 'Cr<--Sm', BLUE, 15.5, box=True)
dsc_text(axC, 40.7, 0.23, -0.51, 'DSC:', 'Sm<--N', BLUE, 15.5)
dsc_text(axC, 59.4, 1.33, 0.62, 'DSC:', 'N<--I', BLUE, 15.5, box=True)
for k, (yy, s) in enumerate([(4.43, 'extremely'), (3.72, 'noisy'), (2.98, 'signal')]):
    axC.text(55.7, yy, s, fontsize=12.5, ha='left', va='center', zorder=9)
axC.text(45.8, 5.28, '?', fontsize=21, ha='center', va='center', zorder=9)
gray_arrow(axC, (15.7, 3.1), (21.2, 2.39))
gray_arrow(axC, (36.4, 3.05), (42.0, 2.34))
gray_arrow(axC, (44.3, 4.57), (49.4, 4.57))
circle_mark(axC, c_circles[0], 24.8, 'x')
circle_mark(axC, c_circles[1], 30.8, '+')
circle_mark(axC, c_circles[2], 25.2, 'x')
red_marker(axC, c_break_T, -1)
axC.legend(handles, freq_labels, loc='upper left', bbox_to_anchor=(0.067, 0.958), borderaxespad=0,
           fontsize=12.5, frameon=True, fancybox=False, edgecolor='#606060', framealpha=1,
           handlelength=2.4, handletextpad=0.3, borderpad=0.15, labelspacing=0.25).set_zorder(10)
axC.set_xlabel('Temperature [°C]', fontsize=15.5, labelpad=1)
axC.set_ylabel('tan(delta) [-]', fontsize=15.5, labelpad=4)

# ---------------------------------------------------------------- panel (d)
axD = fig.add_axes(ax_rect(661.7, 1082.6, 746.7, 1084.3))
style(axD, xsize=14.5, ysize=14.5)
axD.set_ylim(-2, 7)
axD.yaxis.set_major_locator(MultipleLocator(2))
axD.yaxis.set_minor_locator(MultipleLocator(1))
axD.vlines(np.arange(57.1, 69.6, 0.77), -1.9, 6.9, color=HATCH, lw=1.0, zorder=1)
axD.add_patch(Rectangle((56.9, 1.72), 13.5, 2.16, facecolor='white', edgecolor='none', zorder=3))
handles = [None] * 5
for i in order:
    h, = axD.plot(d_T_lo, d_tan_lo[i], color=TAN_COLORS[i], lw=1.2, zorder=2)
    axD.plot(d_T_hi, d_tan_hi[i], color=TAN_COLORS[i], lw=1.2, zorder=2)
    handles[i] = h
axD.bar(d_dsc_T, np.array(d_dsc_top) + 2, bottom=-2, width=1.15, color=BLUE, zorder=4)
dsc_text(axD, 6.8, 1.3, 0.59, 'DSC:', 'Cr-->Sm', BLUE, 15.5, box=True)
dsc_text(axD, 33.8, 0.29, -0.42, 'DSC:', 'Sm-->N', BLUE, 15.5)
dsc_text(axD, 59.3, 0.29, -0.42, 'DSC:', 'N-->I', BLUE, 15.5, box=True)
for yy, s in [(3.47, 'extremely'), (2.75, 'noisy'), (2.02, 'signal')]:
    axD.text(58.5, yy, s, fontsize=12.5, ha='left', va='center', zorder=9)
axD.text(44.9, 5.84, '?', fontsize=21, ha='center', va='center', zorder=9)
gray_arrow(axD, (24.8, 3.03), (25.7, 2.0))
gray_arrow(axD, (40.9, 3.83), (41.7, 2.81))
gray_arrow(axD, (47.2, 5.33), (52.4, 4.62))
circle_mark(axD, d_circles[0], 30.0, '+')
circle_mark(axD, d_circles[1], 30.0, '+')
circle_mark(axD, d_circles[2], 25.8, 'x')
red_marker(axD, d_break_T, -2)
axD.legend(handles, freq_labels, loc='upper left', bbox_to_anchor=(0.097, 1.0), borderaxespad=0,
           fontsize=12.5, frameon=True, fancybox=False, edgecolor='#606060', framealpha=1,
           handlelength=2.4, handletextpad=0.3, borderpad=0.15, labelspacing=0.25).set_zorder(10)
axD.set_xlabel('Temperature [°C]', fontsize=15.5, labelpad=1)
axD.set_ylabel('tan(delta) [-]', fontsize=15.5, labelpad=4)

# ---------------------------------------------------------------- titles, legends
title_block(268, 106, 'H03–BAFKU$_\\mathbf{2}$ gelation upon cooling (1°C/min)', 345, 468, 94, BLUE, -1)
title_block(808, 106, 'H03–BAFKU$_\\mathbf{2}$ gel melting upon heating (1°C/min)', 909, 1041, 95, 'red', 1)
title_block(262, 723, 'H03–BAFKU$_\\mathbf{2}$ gelation upon cooling (1°C/min)', 358, 491, 702, BLUE, -1)
title_block(855, 725, 'H03–BAFKU$_\\mathbf{2}$ gel melting upon heating  (1°C/min)', 966, 1065, 706, 'red', 1)

modulus_legend(282, 540, 123, 253, [147, 180, 213], 310, 315, 533, 131,
               [(435, 146), (439, 151), (440, 160), (442, 166), (446, 170), (440, 172),
                (432, 175), (424, 178), (414, 182)],
               ((447, 171), (482, 166)), (486, 150, '16 Hz', 183, '1 Hz'),
               (501, 209, '1 Hz', 243, '16 Hz'), ((452, 215), (497, 224)))
modulus_legend(840, 1091, 119, 250, [144, 177, 210], 870, 874, 1090, 130,
               [(990, 143), (994, 148), (995, 157), (997, 163), (1001, 167), (995, 169),
                (987, 172), (979, 175), (969, 179)],
               ((1002, 168), (1039, 163)), (1042, 148, '16 Hz', 181, '1 Hz'),
               (1057, 208, '1 Hz', 242, '16 Hz'), ((1010, 211), (1053, 222)))

for (x, y, s) in [(327, 28, '($\\mathbf{a}$)'), (828, 28, '($\\mathbf{b}$)'),
                  (280, 633, '($\\mathbf{c}$)'), (795, 633, '($\\mathbf{d}$)')]:
    fig.text(*P(x, y), s, fontsize=13, ha='center', va='center')

fig.savefig('out.png', dpi=100, facecolor='white')
